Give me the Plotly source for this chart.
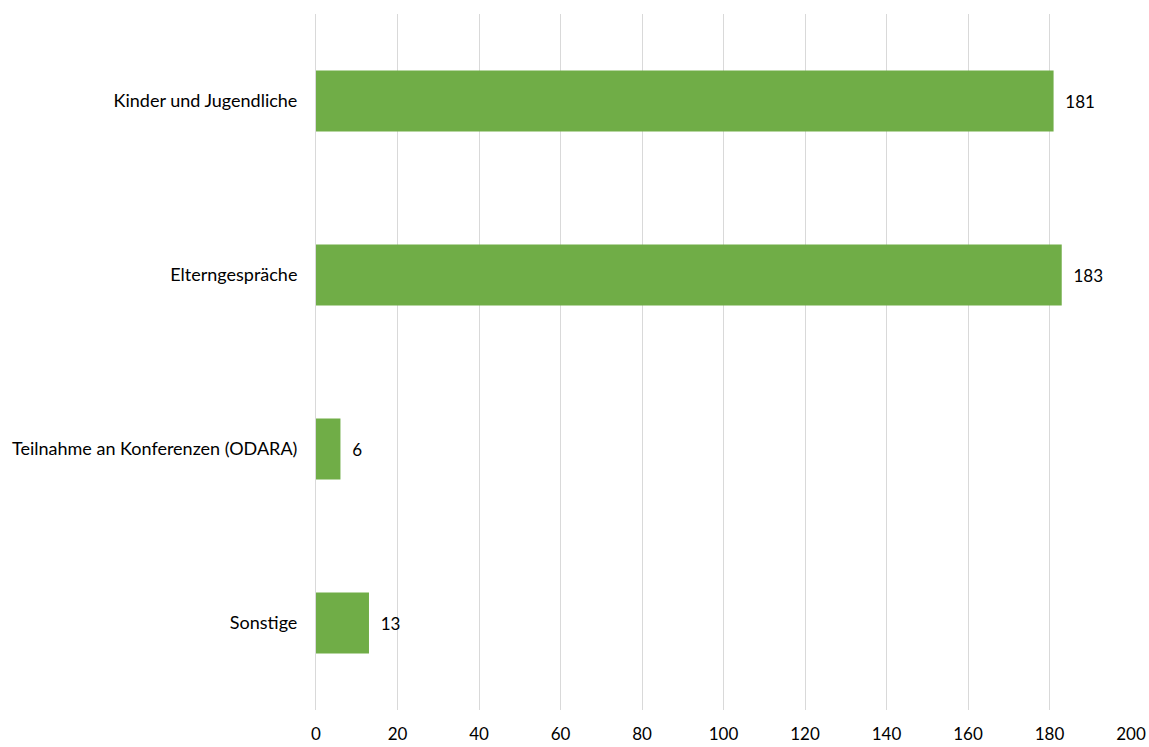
import plotly.graph_objects as go

categories = ["Kinder und Jugendliche", "Elterngespräche", "Teilnahme an Konferenzen (ODARA)", "Sonstige"]
values = [181, 183, 6, 13]
x_ticks = [0, 20, 40, 60, 80, 100, 120, 140, 160, 180, 200]

FONT = "Lato, 'Open Sans', sans-serif"

fig = go.Figure(go.Bar(
    y=categories, x=values, orientation="h",
    marker=dict(color="#70AD47", line=dict(width=0)),
    width=0.35,
    text=[f"  {v}" for v in values], textposition="outside",
    textfont=dict(size=17, color="#000000", family=FONT),
    cliponaxis=False,
))

fig.update_layout(
    width=1149, height=747,
    margin=dict(l=316, r=18, t=14, b=37, autoexpand=False),
    plot_bgcolor="white", paper_bgcolor="white",
    showlegend=False,
    font=dict(family=FONT, size=17, color="#000000"),
    xaxis=dict(range=[0, 200], tickvals=x_ticks, showgrid=True, gridcolor="#D9D9D9", gridwidth=1,
               zeroline=False, showline=False, ticks="outside", ticklen=9, tickcolor="rgba(0,0,0,0)",
               tickfont=dict(size=17, family=FONT), automargin=False),
    yaxis=dict(autorange="reversed", showgrid=False, zeroline=False, showline=True, linecolor="#D9D9D9",
               linewidth=1, ticks="outside", ticklen=14, tickcolor="rgba(0,0,0,0)",
               tickfont=dict(size=18, family=FONT), automargin=False),
)

fig.write_html("out.html")
